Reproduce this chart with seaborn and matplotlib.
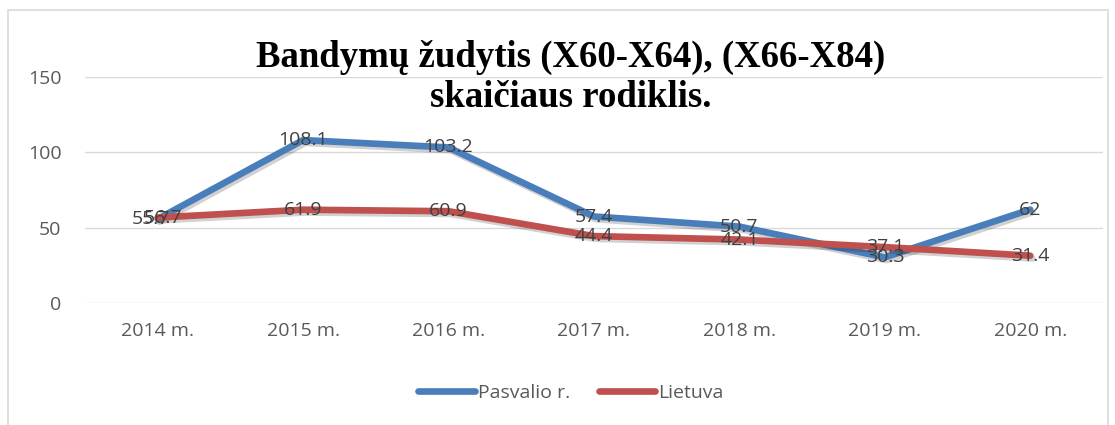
import pandas as pd
import numpy as np
import matplotlib.pyplot as plt
import matplotlib.patheffects as pe
import seaborn as sns

years = ["2014 m.", "2015 m.", "2016 m.", "2017 m.", "2018 m.", "2019 m.", "2020 m."]
pasvalio = [55.7, 108.1, 103.2, 57.4, 50.7, 30.3, 62]
lietuva = [56.7, 61.9, 60.9, 44.4, 42.1, 37.1, 31.4]
series_names = ["Pasvalio r.", "Lietuva"]
title = "Bandymų žudytis (X60-X64), (X66-X84)\nskaičiaus rodiklis."

df = pd.DataFrame({"year": years * 2,
                   "value": pasvalio + lietuva,
                   "series": [series_names[0]] * len(years) + [series_names[1]] * len(years)})
df["x"] = df.groupby("series").cumcount()

sns.set_style("white")
plt.rcParams["font.family"] = ["Open Sans", "DejaVu Sans"]

fig = plt.figure(figsize=(11.15, 4.25), dpi=100)
ax = fig.add_axes([0.0762, 0.287, 0.913, 0.532])

palette = {"Pasvalio r.": "#4a7ebb", "Lietuva": "#c0504d"}
sns.lineplot(data=df, x="x", y="value", hue="series", palette=palette,
             linewidth=4.8, ax=ax, legend=False, solid_capstyle="round",
             path_effects=[pe.SimpleLineShadow(offset=(1.5, -2), alpha=0.18, shadow_color="black"),
                           pe.Normal()])

# first-point labels overlap in the original, nudged sideways a little
first_dx = {"Pasvalio r.": -5, "Lietuva": 4}
for name, vals in zip(series_names, [pasvalio, lietuva]):
    for i, v in enumerate(vals):
        off = (first_dx[name] if i == 0 else 0, 0)
        ax.annotate(f"{v:g}", (i, v), xytext=off, textcoords="offset points",
                    ha="center", va="center", fontsize=14, color="#404040")

ax.set_xlim(-0.5, len(years) - 0.5)
ax.set_ylim(0, 150)
ax.set_yticks([0, 50, 100, 150])
ax.set_xticks(range(len(years)))
ax.set_xticklabels(years)
ax.grid(axis="y", color="#d9d9d9", linewidth=1)
ax.grid(axis="x", visible=False)
for s in ax.spines.values():
    s.set_visible(False)
ax.tick_params(axis="x", length=0, pad=14, labelsize=14, labelcolor="#595959")
ax.tick_params(axis="y", length=0, pad=17, labelsize=14, labelcolor="#595959")
ax.set_xlabel("")
ax.set_ylabel("")

fig.text(0.512, 0.818, title, ha="center", va="center", fontsize=26.5, fontweight="bold",
         family="Liberation Serif", linespacing=1.18, color="black")

handles = [plt.Line2D([], [], color=palette[n], linewidth=4.8, solid_capstyle="round") for n in series_names]
fig.legend(handles, series_names, loc="center", bbox_to_anchor=(0.512, 0.075), ncol=2, frameon=False,
           fontsize=14, handlelength=2.9, handletextpad=0.15, columnspacing=1.5, labelcolor="#595959")

fig.patches.append(plt.Rectangle((8 / 1115, -0.01), 1100 / 1115, 1 - 10 / 425 + 0.01, transform=fig.transFigure,
                                 fill=False, edgecolor="#d9d9d9", linewidth=1.2))

fig.savefig("out.png", dpi=100)
